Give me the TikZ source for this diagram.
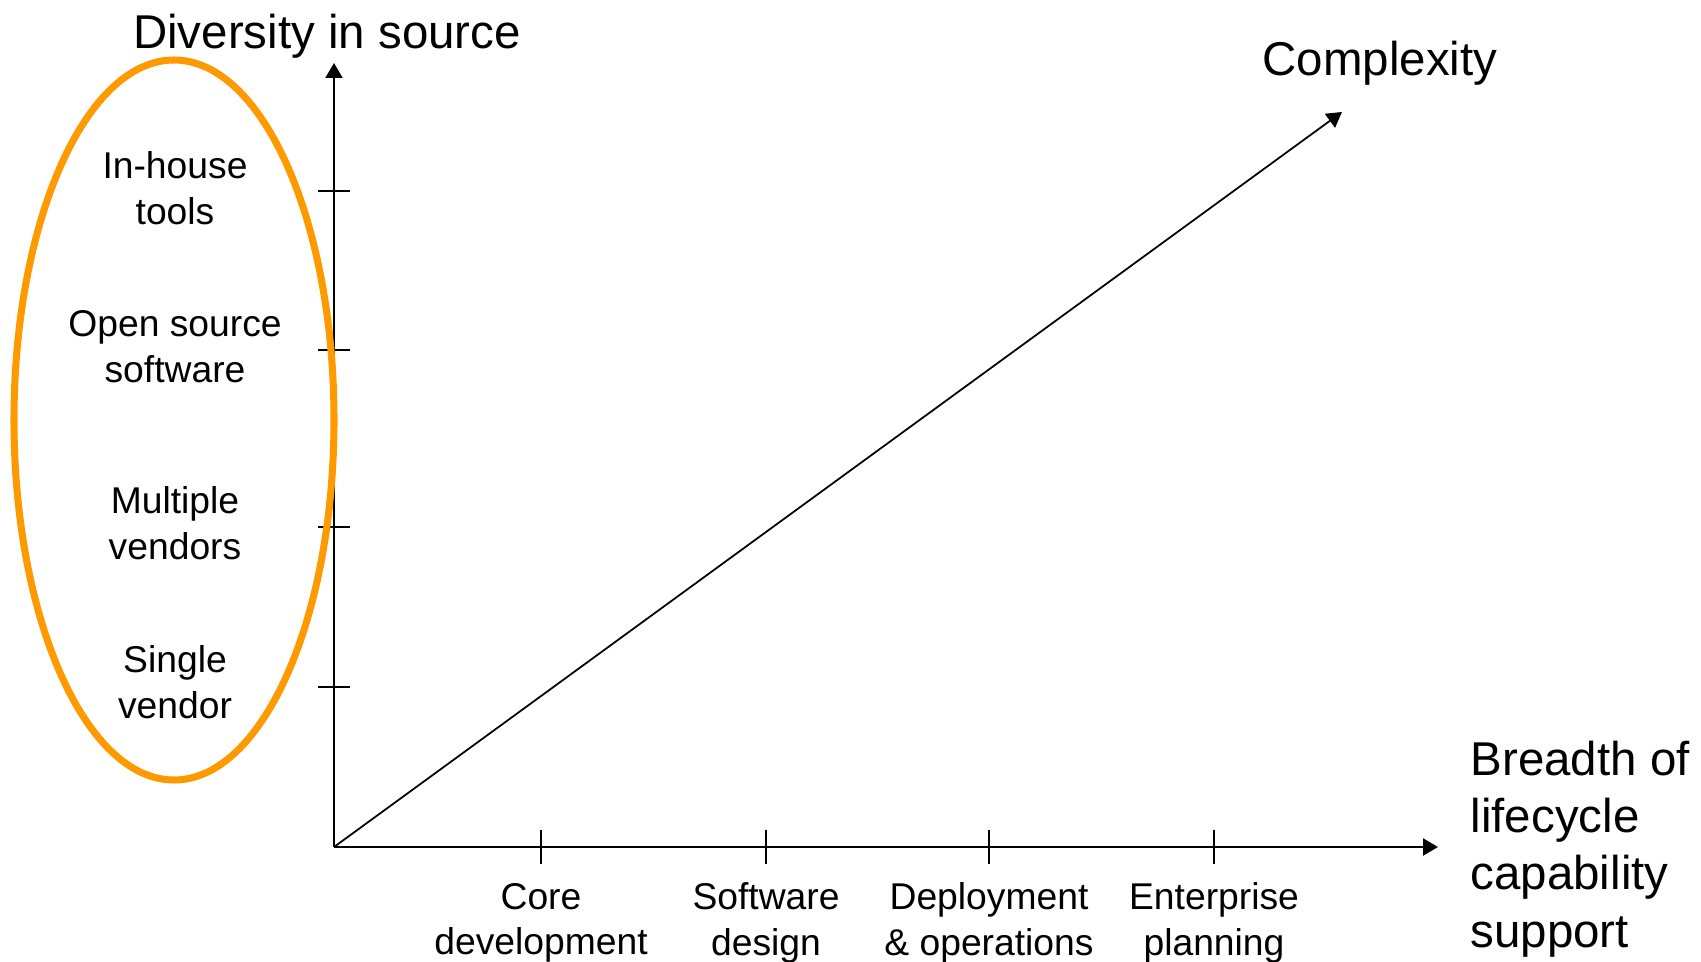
\documentclass[tikz,border=0pt]{standalone}
\usepackage{fontspec}
\setmainfont{Liberation Sans}
\usepackage{xcolor}
\usetikzlibrary{arrows.meta,positioning}
\definecolor{ink}{HTML}{000000}
\definecolor{ring}{HTML}{FF9900}
\tikzset{
  axis/.style={draw=ink, line width=0.6pt, -{Triangle[length=1.5mm,width=1.7mm]}},
  trend/.style={draw=ink, line width=0.5pt, -{Triangle[length=1.5mm,width=1.7mm]}},
  tick/.style={draw=ink, line width=0.5pt},
  oval/.style={draw=ring, line width=2pt},
  big/.style={text=ink, font=\fontsize{13.5pt}{16.3pt}\selectfont, inner sep=0pt},
  small/.style={text=ink, font=\fontsize{10.6pt}{13pt}\selectfont, align=center, inner sep=0pt},
}
\begin{document}
\begin{tikzpicture}
\useasboundingbox (0,0) rectangle (17.01,9.61);
\coordinate (O) at (3.34,1.14);
\coordinate (ytop) at (3.34,8.98);
\coordinate (xend) at (14.38,1.14);
\coordinate (cxend) at (13.42,8.49);
\draw[axis] (O) -- (ytop);
\draw[axis] (O) -- (xend);
\draw[trend] (O) -- (cxend);
\foreach \y in {7.70,6.11,4.34,2.74}
  \draw[tick] (3.18,\y) -- (3.50,\y);
\foreach \x in {5.41,7.66,9.89,12.14}
  \draw[tick] (\x,0.97) -- (\x,1.31);
\draw[oval] (1.74,5.41) ellipse (1.60 and 3.60);
\node[big] (diversity) at (3.27,9.25) {Diversity in source};
\node[big] (complexity) at (13.80,8.98) {Complexity};
\node[big, align=left, anchor=west] (breadth) at (14.70,1.12) {Breadth of\\lifecycle\\capability\\support};
\node[small] (inhouse) at (1.75,7.73) {In-house\\tools};
\node[small] (opensrc) at (1.75,6.14) {Open source\\software};
\node[small] (multi) at (1.75,4.38) {Multiple\\vendors};
\node[small] (single) at (1.75,2.79) {Single\\vendor};
\node[small] (core) at (5.41,0.38) {Core\\development};
\node[small] (design) at (7.66,0.38) {Software\\design};
\node[small] (deploy) at (9.89,0.38) {Deployment\\\& operations};
\node[small] (enterprise) at (12.14,0.38) {Enterprise\\planning};
\end{tikzpicture}
\end{document}
